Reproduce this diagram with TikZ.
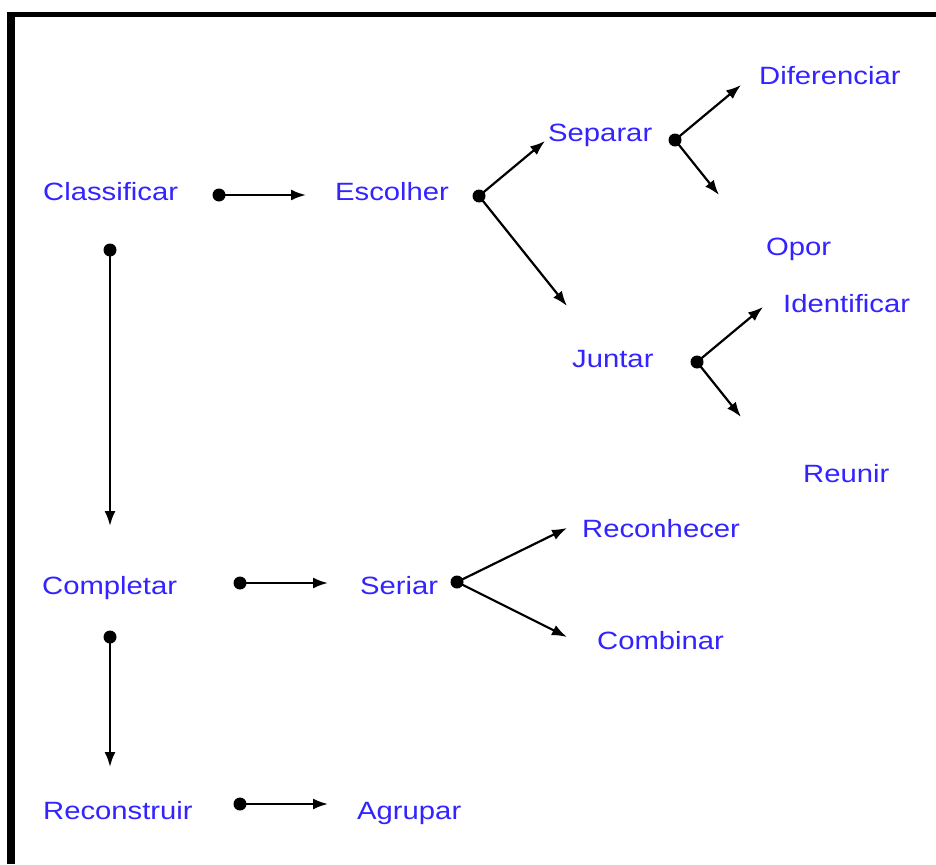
\documentclass[tikz,border=0pt]{standalone}
\usepackage{fontspec}
\setmainfont{Liberation Sans}[FakeStretch=1.17]
\usetikzlibrary{arrows.meta}
\definecolor{lblue}{RGB}{50,35,255}
\begin{document}
\begin{tikzpicture}[x=1pt,y=-1pt,
  lbl/.style={anchor=base west,inner sep=0pt,text=lblue,font=\fontsize{25}{30}\selectfont},
  dotnode/.style={circle,fill=black,inner sep=0pt,minimum size=13pt},
  conn/.style={line width=2.2pt,-{Latex[length=15pt,width=11pt]}}]
\useasboundingbox (0,0) rectangle (936,864);
% border
\draw[line width=8pt] (11,864) -- (11,14.5);
\draw[line width=5.5pt] (7,14.5) -- (936,14.5);
% labels
\node[lbl] (classificar) at (43,200) {Classificar};
\node[lbl] (escolher) at (335,200) {Escolher};
\node[lbl] (separar) at (548,142) {Separar};
\node[lbl] (diferenciar) at (759,85) {Diferenciar};
\node[lbl] (opor) at (766,255) {Opor};
\node[lbl] (identificar) at (783,312) {Identificar};
\node[lbl] (juntar) at (572,367) {Juntar};
\node[lbl] (reunir) at (803,482) {Reunir};
\node[lbl] (completar) at (42,594) {Completar};
\node[lbl] (seriar) at (360,594) {Seriar};
\node[lbl] (reconhecer) at (582,537) {Reconhecer};
\node[lbl] (combinar) at (597,649) {Combinar};
\node[lbl] (reconstruir) at (43,819) {Reconstruir};
\node[lbl] (agrupar) at (357,819) {Agrupar};
% dots
\node[dotnode] (d1) at (219,195) {};
\node[dotnode] (d2) at (479,196) {};
\node[dotnode] (d3) at (675,140) {};
\node[dotnode] (d4) at (697,362) {};
\node[dotnode] (d5) at (110,250) {};
\node[dotnode] (d6) at (240,583) {};
\node[dotnode] (d7) at (457,582) {};
\node[dotnode] (d8) at (110,637) {};
\node[dotnode] (d9) at (240,804) {};
% arrow ends
\coordinate (e1) at (306,195);
\coordinate (e2a) at (545,141);
\coordinate (e2b) at (567,306);
\coordinate (e3a) at (741,85);
\coordinate (e3b) at (719,195);
\coordinate (e4a) at (763,307);
\coordinate (e4b) at (741,417);
\coordinate (e5) at (110,526);
\coordinate (e6) at (328,583);
\coordinate (e7a) at (567,528);
\coordinate (e7b) at (567,637);
\coordinate (e8) at (110,767);
\coordinate (e9) at (328,804);
% connectors
\draw[conn] (d1.center) -- (e1);
\draw[conn] (d2.center) -- (e2a);
\draw[conn] (d2.center) -- (e2b);
\draw[conn] (d3.center) -- (e3a);
\draw[conn] (d3.center) -- (e3b);
\draw[conn] (d4.center) -- (e4a);
\draw[conn] (d4.center) -- (e4b);
\draw[conn] (d5.center) -- (e5);
\draw[conn] (d6.center) -- (e6);
\draw[conn] (d7.center) -- (e7a);
\draw[conn] (d7.center) -- (e7b);
\draw[conn] (d8.center) -- (e8);
\draw[conn] (d9.center) -- (e9);
\end{tikzpicture}
\end{document}
